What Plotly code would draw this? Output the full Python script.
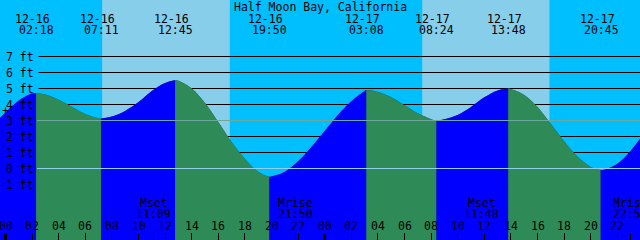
import pandas as pd
import plotly.graph_objects as go

# ---------------- data ----------------
title = "Half Moon Bay, California"
base = pd.Timestamp("2023-12-16 00:00")

# tide extremes (highs / lows)
event_times = ["2023-12-16 02:18", "2023-12-16 07:11", "2023-12-16 12:45", "2023-12-16 19:50",
               "2023-12-17 03:08", "2023-12-17 08:24", "2023-12-17 13:48", "2023-12-17 20:45"]
event_heights = [4.72, 3.12, 5.52, -0.52, 4.90, 3.00, 5.00, -0.10]

# hourly water levels (hours after 12-16 00:00, feet)
reading_hours = [-1, 0, 1, 2,
                 3, 4, 5, 6, 7,
                 8, 9, 10, 11, 12,
                 13, 14, 15, 16, 17, 18, 19,
                 20, 21, 22, 23, 24, 25, 26, 27,
                 28, 29, 30, 31, 32,
                 33, 34, 35, 36, 37,
                 38, 39, 40, 41, 42, 43, 44,
                 45, 46, 47, 48]
reading_heights = [2.70, 3.50, 4.25, 4.68,
                   4.62, 4.30, 3.85, 3.40, 3.13,
                   3.25, 3.60, 4.15, 4.85, 5.35,
                   5.48, 5.00, 4.10, 2.90, 1.65, 0.60, -0.20,
                   -0.50, -0.20, 0.45, 1.35, 2.35, 3.35, 4.20, 4.85,
                   4.78, 4.45, 3.95, 3.45, 3.08,
                   3.08, 3.35, 3.85, 4.45, 4.88,
                   4.97, 4.60, 3.85, 2.80, 1.70, 0.75, 0.10,
                   -0.08, 0.30, 1.10, 2.20]

# daylight periods (sunrise, sunset)
sunrise_times = ["2023-12-16 07:16", "2023-12-17 07:20"]
sunset_times = ["2023-12-16 16:52", "2023-12-17 16:54"]

# moon events
moon_times = ["2023-12-16 11:09", "2023-12-16 21:50", "2023-12-17 11:48", "2023-12-17 22:58"]
moon_names = ["Mset", "Mrise", "Mset", "Mrise"]

# hour ticks (hours after 12-16 00:00) and their labels
tick_hours = list(range(0, 50, 2))
tick_labels = [f"{h % 24:02d}" for h in tick_hours]

# height grid (feet)
levels = [-1, 0, 1, 2, 3, 4, 5, 6, 7]
level_labels = [f"{v} ft" for v in levels]
msl_level = 3
datum_level = 0
mark_level = 3.58

# ---------------- styling ----------------
FONT = dict(family="DejaVu Sans Mono", size=11.5, color="black")
NIGHT = "#00BFFF"
DAY = "#87CEEB"
FLOOD = "#0000FF"
EBB = "#2E8B57"
SEAM = "#17466B"
MSL_COLOR = "#6CA89C"
DATUM_COLOR = "#90D0EA"
W, H = 640, 240
PX_PER_HOUR = 13.3
x_start = base - pd.Timedelta(hours=5.5 / PX_PER_HOUR)
x_end = x_start + pd.Timedelta(hours=W / PX_PER_HOUR)
Y_MAX = 168.5 / 16
Y_MIN = Y_MAX - 15

def px_y(p):
    return 1 - p / H

# ---------------- water ----------------
ev_t = pd.to_datetime(event_times)
rd_t = [base + pd.Timedelta(hours=h) for h in reading_hours]
pts = sorted([(t, h, True) for t, h in zip(ev_t, event_heights)] +
             [(t, h, False) for t, h in zip(rd_t, reading_heights)], key=lambda p: p[0])

segments = []
cur = [pts[0]]
for p in pts[1:]:
    cur.append(p)
    if p[2]:
        segments.append(cur)
        cur = [p]
if len(cur) > 1:
    segments.append(cur)

fig = go.Figure()
# underlay of the whole curve (hides seams between flood/ebb fills)
all_x = [p[0] for p in pts]
all_y = [p[1] for p in pts]
fig.add_trace(go.Scatter(x=[all_x[0], all_x[-1]], y=[Y_MIN, Y_MIN], mode="lines",
                         line=dict(width=0), hoverinfo="skip", showlegend=False))
fig.add_trace(go.Scatter(x=all_x, y=all_y, mode="lines", line=dict(width=0, shape="spline"),
                         fill="tonexty", fillcolor=SEAM, hoverinfo="skip", showlegend=False))
for seg in segments:
    xs = [p[0] for p in seg]
    ys = [p[1] for p in seg]
    color = FLOOD if ys[-1] > ys[0] else EBB
    fig.add_trace(go.Scatter(x=[xs[0], xs[-1]], y=[Y_MIN, Y_MIN], mode="lines",
                             line=dict(width=0), hoverinfo="skip", showlegend=False))
    fig.add_trace(go.Scatter(x=xs, y=ys, mode="lines", line=dict(width=0, shape="spline"),
                             fill="tonexty", fillcolor=color, hoverinfo="skip", showlegend=False))

# helper traces so overlay axes render
midnights = [base, base + pd.Timedelta(days=1), base + pd.Timedelta(days=2)]
fig.add_trace(go.Scatter(x=midnights, y=[Y_MIN] * 3, xaxis="x2", mode="markers",
                         marker=dict(opacity=0), hoverinfo="skip", showlegend=False))
fig.add_trace(go.Scatter(x=pd.to_datetime(moon_times), y=[Y_MIN] * 4, xaxis="x3", mode="markers",
                         marker=dict(opacity=0), hoverinfo="skip", showlegend=False))

# ---------------- sky and grid ----------------
shapes = []
for sr, ss in zip(sunrise_times, sunset_times):
    shapes.append(dict(type="rect", xref="x", yref="paper", x0=sr, x1=ss, y0=0, y1=1,
                       fillcolor=DAY, line=dict(width=0), layer="below"))
for v in levels:
    shapes.append(dict(type="line", xref="paper", yref="y", x0=38.5 / W, x1=1, y0=v, y1=v,
                       line=dict(color="black", width=1), layer="below"))
shapes.append(dict(type="line", xref="paper", yref="y", x0=37 / W, x1=1, y0=msl_level, y1=msl_level,
                   line=dict(color=MSL_COLOR, width=1), layer="above"))
shapes.append(dict(type="line", xref="paper", yref="y", x0=37 / W, x1=1, y0=datum_level, y1=datum_level,
                   line=dict(color=DATUM_COLOR, width=1), layer="above"))

# ---------------- annotations ----------------
ann = []
ann.append(dict(text=title, xref="paper", yref="paper", x=0.5, y=px_y(6.5), showarrow=False,
                xanchor="center", yanchor="middle", font=FONT))
for t in ev_t:
    ann.append(dict(text=t.strftime("%m-%d"), xref="x", yref="paper", x=t, y=px_y(18.5), xshift=-3.5,
                    showarrow=False, xanchor="center", yanchor="middle", font=FONT))
    ann.append(dict(text=t.strftime("%H:%M"), xref="x", yref="paper", x=t, y=px_y(29.5), xshift=0.5,
                    showarrow=False, xanchor="center", yanchor="middle", font=FONT))
for t, name in zip(pd.to_datetime(moon_times), moon_names):
    ann.append(dict(text=name, xref="x", yref="paper", x=t, y=px_y(202.5), showarrow=False,
                    xanchor="center", yanchor="middle", font=FONT))
    ann.append(dict(text=t.strftime("%H:%M"), xref="x", yref="paper", x=t, y=px_y(213.5), showarrow=False,
                    xanchor="center", yanchor="middle", font=FONT))
for h, lab in zip(tick_hours, tick_labels):
    ann.append(dict(text=lab, xref="x", yref="paper", x=base + pd.Timedelta(hours=h), y=px_y(226),
                    showarrow=False, xanchor="center", yanchor="middle", font=FONT))
for v, lab in zip(levels, level_labels):
    ann.append(dict(text=lab, xref="paper", yref="y", x=36 / W, y=v, yshift=-0.5, showarrow=False,
                    xanchor="right", yanchor="middle", font=FONT))
ann.append(dict(text="+", xref="paper", yref="y", x=5.5 / W, y=mark_level, showarrow=False,
                xanchor="center", yanchor="middle", font=FONT))

axis_common = dict(type="date", range=[x_start, x_end], showgrid=False, zeroline=False,
                   showline=False, ticks="inside", ticklen=7, tickcolor="black", fixedrange=True,
                   showticklabels=False)

fig.update_layout(
    width=W, height=H, margin=dict(l=0, r=0, t=0, b=0),
    plot_bgcolor=NIGHT, paper_bgcolor=NIGHT, showlegend=False,
    shapes=shapes, annotations=ann,
    xaxis=dict(**axis_common, tickvals=[base + pd.Timedelta(hours=h) for h in tick_hours], tickwidth=1),
    xaxis2=dict(**axis_common, overlaying="x", anchor="y", tickvals=midnights, tickwidth=3),
    xaxis3=dict(**axis_common, overlaying="x", anchor="y", tickvals=pd.to_datetime(moon_times),
                tickwidth=1),
    yaxis=dict(range=[Y_MIN, Y_MAX], showgrid=False, zeroline=False, showticklabels=False,
               ticks="", fixedrange=True),
)

fig.write_html("out.html")
